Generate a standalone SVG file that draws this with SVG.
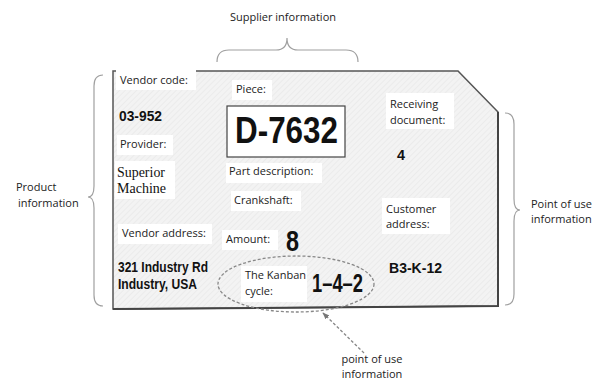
<svg xmlns="http://www.w3.org/2000/svg" width="606" height="382" viewBox="0 0 606 382">
<defs>
<pattern id="hatch" patternUnits="userSpaceOnUse" width="4" height="4" patternTransform="rotate(45)">
<rect width="4" height="4" fill="#f3f3f3"/>
<line x1="0" y1="0" x2="0" y2="4" stroke="#e3e3e3" stroke-width="1"/>
</pattern>
<marker id="arr" viewBox="0 0 10 10" refX="9" refY="5" markerWidth="7" markerHeight="7" orient="auto-start-reverse" markerUnits="userSpaceOnUse">
<path d="M0,1 L10,5 L0,9 Z" fill="#777"/>
</marker>
<style>
.lbl{font-family:"Open Sans","Noto Sans","DejaVu Sans",sans-serif;font-size:11px;fill:#222}
.val{font-family:"Liberation Sans",Arial,sans-serif;font-weight:bold;fill:#111}
.ser{font-family:"Liberation Serif","Times New Roman",serif;font-size:15px;fill:#111}
.bg{fill:#fff}
.brace{fill:none;stroke:#a0a0a0;stroke-width:1.2}
</style>
</defs>

<g id="card">
<path d="M113,71 L458,71 L498,112 L498,306 L113,309 Z" fill="url(#hatch)" stroke="#555" stroke-width="1.5"/>
<path d="M498,112 L498,306 L113,309" fill="none" stroke="#444" stroke-width="2"/>
</g>

<g id="vendor-code">
<rect class="bg" x="116" y="70" width="80" height="20"/>
<text class="lbl" x="120" y="84">Vendor code:</text>
<text class="val" x="119" y="121" font-size="15" textLength="43" lengthAdjust="spacingAndGlyphs">03-952</text>
</g>

<g id="provider">
<rect class="bg" x="117" y="135" width="56" height="20"/>
<text class="lbl" x="120" y="148">Provider:</text>
<rect class="bg" x="115" y="161" width="60" height="38"/>
<text class="ser" x="117" y="177" textLength="48" lengthAdjust="spacingAndGlyphs">Superior</text>
<text class="ser" x="117" y="193" textLength="49" lengthAdjust="spacingAndGlyphs">Machine</text>
</g>

<g id="piece">
<rect class="bg" x="232" y="80" width="40" height="20"/>
<text class="lbl" x="236" y="93">Piece:</text>
<rect x="227" y="106" width="118" height="51" fill="#fff" stroke="#444" stroke-width="1.2"/>
<text class="val" x="235" y="143" font-size="36" textLength="103" lengthAdjust="spacingAndGlyphs">D-7632</text>
</g>

<g id="part-description">
<rect class="bg" x="226" y="163" width="96" height="20"/>
<text class="lbl" x="229" y="175">Part description:</text>
<rect class="bg" x="231" y="191" width="70" height="20"/>
<text class="lbl" x="234" y="204">Crankshaft:</text>
</g>

<g id="receiving-document">
<rect class="bg" x="386" y="93" width="68" height="36"/>
<text class="lbl" x="390" y="108">Receiving</text>
<text class="lbl" x="390" y="124">document:</text>
<text class="val" x="397" y="160" font-size="15" textLength="8" lengthAdjust="spacingAndGlyphs">4</text>
</g>

<g id="customer-address">
<rect class="bg" x="382" y="198" width="68" height="36"/>
<text class="lbl" x="386" y="213">Customer</text>
<text class="lbl" x="386" y="228">address:</text>
<text class="val" x="389" y="273" font-size="15" textLength="53" lengthAdjust="spacingAndGlyphs">B3-K-12</text>
</g>

<g id="vendor-address">
<rect class="bg" x="118" y="224" width="94" height="20"/>
<text class="lbl" x="122" y="237">Vendor address:</text>
<text class="val" x="118" y="272" font-size="15" textLength="90" lengthAdjust="spacingAndGlyphs">321 Industry Rd</text>
<text class="val" x="118" y="289" font-size="15" textLength="79" lengthAdjust="spacingAndGlyphs">Industry, USA</text>
</g>

<g id="amount">
<rect class="bg" x="222" y="230" width="56" height="20"/>
<text class="lbl" x="226" y="243">Amount:</text>
<text class="val" x="286" y="251" font-size="30" textLength="13" lengthAdjust="spacingAndGlyphs">8</text>
</g>

<g id="kanban-cycle">
<rect class="bg" x="241" y="266" width="66" height="36"/>
<text class="lbl" x="245" y="279">The Kanban</text>
<text class="lbl" x="245" y="295">cycle:</text>
<text class="val" x="312" y="292" font-size="26" textLength="51" lengthAdjust="spacingAndGlyphs">1–4–2</text>
<ellipse cx="296" cy="284" rx="78" ry="28" fill="none" stroke="#888" stroke-width="1.3" stroke-dasharray="3,2"/>
</g>

<g id="supplier-information">
<text class="lbl" x="283" y="21" text-anchor="middle">Supplier information</text>
</g>
<g id="product-information">
<text class="lbl" x="16" y="191">Product</text>
<text class="lbl" x="18" y="207">information</text>
</g>
<g id="point-of-use-right">
<text class="lbl" x="531" y="208">Point of use</text>
<text class="lbl" x="531" y="223">information</text>
</g>
<g id="point-of-use-bottom">
<text class="lbl" x="372" y="363" text-anchor="middle">point of use</text>
<text class="lbl" x="372" y="378" text-anchor="middle">information</text>
</g>

<g id="connectors">
<path class="brace" d="M217,62 Q217,50 229,50 L276,50 Q287,50 287,38 Q287,50 298,50 L346,50 Q358,50 358,62"/>
<path class="brace" d="M103,75 Q94,75 94,86 L94,186 Q94,197 88,197 Q94,197 94,208 L94,295 Q94,306 103,306"/>
<path class="brace" d="M505,113 Q514,113 514,124 L514,199 Q514,210 520,210 Q514,210 514,221 L514,294 Q514,305 505,305"/>
<line x1="364" y1="353" x2="323" y2="313" stroke="#888" stroke-width="1.3" stroke-dasharray="3,2" marker-end="url(#arr)"/>
</g>
</svg>
